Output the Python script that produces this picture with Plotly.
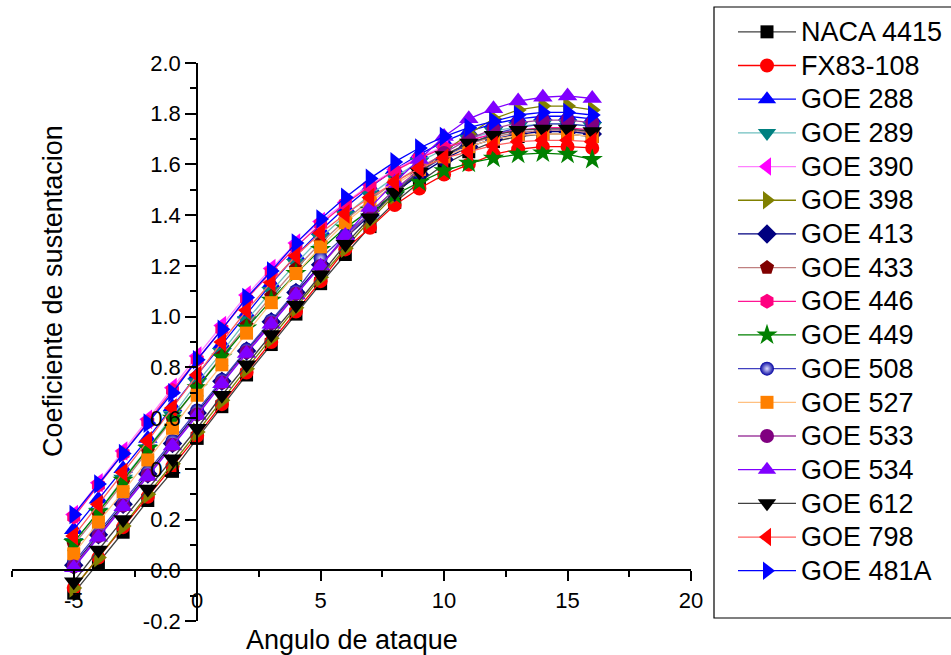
import plotly.graph_objects as go

alpha = list(range(-5, 17))

naca4415 = [-0.09, 0.03, 0.15, 0.275, 0.39, 0.52, 0.645, 0.77, 0.89, 1.01, 1.13, 1.245, 1.355, 1.45, 1.53, 1.60, 1.65, 1.69, 1.71, 1.72, 1.72, 1.71]
fx83_108 = [-0.07, 0.05, 0.17, 0.29, 0.41, 0.53, 0.655, 0.78, 0.90, 1.02, 1.14, 1.265, 1.35, 1.44, 1.505, 1.56, 1.60, 1.64, 1.66, 1.67, 1.67, 1.665]
goe288 = [0.16, 0.28, 0.40, 0.52, 0.645, 0.77, 0.89, 1.01, 1.13, 1.24, 1.34, 1.43, 1.51, 1.58, 1.64, 1.69, 1.73, 1.76, 1.78, 1.79, 1.79, 1.78]
goe289 = [0.11, 0.23, 0.36, 0.48, 0.61, 0.74, 0.86, 0.985, 1.10, 1.21, 1.31, 1.40, 1.48, 1.55, 1.61, 1.66, 1.70, 1.73, 1.75, 1.76, 1.76, 1.75]
goe390 = [0.22, 0.345, 0.47, 0.595, 0.72, 0.845, 0.965, 1.085, 1.19, 1.29, 1.375, 1.45, 1.52, 1.58, 1.63, 1.67, 1.70, 1.72, 1.735, 1.74, 1.74, 1.73]
goe398 = [-0.07, 0.05, 0.175, 0.30, 0.42, 0.545, 0.67, 0.795, 0.915, 1.035, 1.155, 1.27, 1.38, 1.48, 1.57, 1.65, 1.72, 1.78, 1.815, 1.83, 1.83, 1.815]
goe413 = [0.02, 0.14, 0.26, 0.38, 0.50, 0.62, 0.745, 0.865, 0.98, 1.095, 1.205, 1.31, 1.40, 1.49, 1.56, 1.62, 1.67, 1.70, 1.72, 1.73, 1.73, 1.72]
goe433 = [0.10, 0.22, 0.345, 0.47, 0.595, 0.72, 0.845, 0.965, 1.08, 1.19, 1.29, 1.38, 1.46, 1.53, 1.59, 1.64, 1.68, 1.71, 1.725, 1.735, 1.735, 1.725]
goe446 = [0.21, 0.335, 0.46, 0.585, 0.71, 0.83, 0.95, 1.07, 1.175, 1.275, 1.365, 1.445, 1.515, 1.575, 1.625, 1.665, 1.695, 1.72, 1.735, 1.745, 1.745, 1.735]
goe449 = [0.11, 0.23, 0.355, 0.48, 0.60, 0.72, 0.84, 0.955, 1.065, 1.17, 1.265, 1.35, 1.42, 1.48, 1.53, 1.575, 1.605, 1.625, 1.64, 1.645, 1.64, 1.62]
goe508 = [0.03, 0.15, 0.27, 0.39, 0.51, 0.63, 0.75, 0.87, 0.985, 1.10, 1.23, 1.32, 1.41, 1.50, 1.57, 1.63, 1.68, 1.72, 1.745, 1.76, 1.76, 1.75]
goe527 = [0.065, 0.19, 0.31, 0.435, 0.56, 0.69, 0.81, 0.935, 1.055, 1.17, 1.275, 1.37, 1.45, 1.52, 1.58, 1.63, 1.67, 1.70, 1.715, 1.72, 1.72, 1.71]
goe533 = [0.015, 0.135, 0.255, 0.375, 0.495, 0.615, 0.74, 0.86, 0.975, 1.09, 1.20, 1.31, 1.41, 1.50, 1.58, 1.645, 1.70, 1.74, 1.765, 1.775, 1.775, 1.765]
goe534 = [0.01, 0.13, 0.25, 0.37, 0.49, 0.61, 0.735, 0.855, 0.97, 1.085, 1.20, 1.32, 1.43, 1.53, 1.62, 1.71, 1.78, 1.82, 1.85, 1.865, 1.87, 1.86]
goe612 = [-0.045, 0.08, 0.20, 0.32, 0.44, 0.56, 0.69, 0.81, 0.93, 1.045, 1.165, 1.285, 1.39, 1.49, 1.57, 1.635, 1.685, 1.715, 1.735, 1.74, 1.74, 1.73]
goe798 = [0.135, 0.26, 0.385, 0.51, 0.64, 0.77, 0.90, 1.025, 1.135, 1.24, 1.33, 1.405, 1.47, 1.53, 1.585, 1.625, 1.65, 1.675, 1.69, 1.695, 1.695, 1.69]
goe481a = [0.22, 0.34, 0.46, 0.58, 0.70, 0.83, 0.95, 1.075, 1.18, 1.29, 1.385, 1.47, 1.545, 1.61, 1.665, 1.71, 1.745, 1.77, 1.795, 1.805, 1.805, 1.795]

names = ["NACA 4415", "FX83-108", "GOE 288", "GOE 289", "GOE 390", "GOE 398", "GOE 413",
         "GOE 433", "GOE 446", "GOE 449", "GOE 508", "GOE 527", "GOE 533", "GOE 534",
         "GOE 612", "GOE 798", "GOE 481A"]
series = [naca4415, fx83_108, goe288, goe289, goe390, goe398, goe413, goe433, goe446,
          goe449, goe508, goe527, goe533, goe534, goe612, goe798, goe481a]

x_tickvals = [-5, 0, 5, 10, 15, 20]
x_ticktext = ["-5", "0", "5", "10", "15", "20"]
y_tickvals = [-0.2, 0.0, 0.2, 0.4, 0.6, 0.8, 1.0, 1.2, 1.4, 1.6, 1.8, 2.0]
y_ticktext = ["-0.2", "0.0", "0.2", "0.4", "0.6", "0.8", "1.0", "1.2", "1.4", "1.6", "1.8", "2.0"]

styles = [
    ("square", "#000000", "#404040", 13),
    ("circle", "#FF0000", "#FF0000", 14),
    ("triangle-up", "#0000FF", "#0000FF", 17),
    ("triangle-down", "#008080", "#6FBFBF", 17),
    ("triangle-left", "#FF00FF", "#FF80FF", 17),
    ("triangle-right", "#808000", "#808000", 17),
    ("diamond", "#000080", "#000080", 15),
    ("pentagon", "#800000", "#C08080", 15),
    ("hexagon", "#FF0080", "#FF1493", 15),
    ("star", "#008000", "#008000", 16),
    ("circle", "#0000A0", "#4040C0", 14),
    ("square", "#FF8000", "#FFC080", 13),
    ("circle", "#800080", "#A040A0", 14),
    ("triangle-up", "#8000FF", "#8000FF", 17),
    ("triangle-down", "#000000", "#404040", 17),
    ("triangle-left", "#FF0000", "#FF6060", 17),
    ("triangle-right", "#0000FF", "#0000FF", 17),
]

font_family = "Liberation Sans, Arial, sans-serif"
W, H = 951, 655
ML, MR, MT, MB = 12, 260, 63, 34
PW, PH = W - ML - MR, H - MT - MB

fig = go.Figure()
for name, ys, (sym, mc, lc, ms) in zip(names, series, styles):
    marker = dict(symbol=sym, color=mc, size=ms, line=dict(width=0))
    if name == "GOE 508":
        marker["gradient"] = dict(type="radial", color="#E0E0FF")
    fig.add_trace(go.Scatter(
        x=alpha, y=ys, name='<span style="font-size:27px">' + name + '</span>',
        mode="lines+markers",
        line=dict(color=lc, width=1.3),
        marker=marker, cliponaxis=False,
    ))

fig.update_layout(
    width=W, height=H,
    margin=dict(l=ML, r=MR, t=MT, b=MB, autoexpand=False),
    paper_bgcolor="white", plot_bgcolor="white",
    font=dict(family=font_family, color="black"),
    showlegend=True,
    legend=dict(
        xref="container", yref="container",
        x=733 / W, y=1 - 10 / H, xanchor="left", yanchor="top",
        borderwidth=0, bgcolor="rgba(0,0,0,0)",
        font=dict(size=23.6, family=font_family, color="black"),
        itemwidth=58, tracegroupgap=0, maxheight=640,
    ),
    xaxis=dict(
        range=[-7.5, 20], anchor="free", position=0.2 / 2.2,
        showgrid=False, zeroline=False, showline=True, linecolor="black", linewidth=2,
        tickmode="array", tickvals=x_tickvals, ticktext=x_ticktext,
        ticks="outside", ticklen=10, tickwidth=2, tickcolor="black",
        tickfont=dict(size=22, family=font_family, color="black"),
        minor=dict(tickmode="linear", tick0=0, dtick=2.5, ticks="outside", ticklen=6, tickwidth=2, tickcolor="black"),
    ),
    yaxis=dict(
        range=[-0.2, 2.0], anchor="free", position=7.5 / 27.5,
        showgrid=False, zeroline=False, showline=True, linecolor="black", linewidth=2,
        tickmode="array", tickvals=y_tickvals, ticktext=y_ticktext,
        ticks="outside", ticklen=11, tickwidth=2, tickcolor="black",
        tickfont=dict(size=22, family=font_family, color="black"),
        minor=dict(tickmode="linear", tick0=0, dtick=0.1, ticks="outside", ticklen=6, tickwidth=2, tickcolor="black"),
    ),
    shapes=[
        dict(type="rect", xref="paper", yref="paper",
             x0=(714 - ML) / PW, x1=(960 - ML) / PW,
             y0=(H - MB - 618) / PH, y1=(H - MB - 7) / PH,
             line=dict(color="black", width=1.2), fillcolor="rgba(0,0,0,0)", layer="below"),
    ],
    annotations=[
        dict(text="Angulo de ataque", x=(352 - ML) / PW, y=(H - MB - 640) / PH,
             xref="paper", yref="paper", xanchor="center", yanchor="middle",
             showarrow=False, font=dict(size=27, family=font_family, color="black")),
        dict(text="Coeficiente de sustentacion", x=(53 - ML) / PW, y=(H - MB - 291) / PH,
             xref="paper", yref="paper", xanchor="center", yanchor="middle", textangle=-90,
             showarrow=False, font=dict(size=27, family=font_family, color="black")),
    ],
)

fig.write_html("out.html")
